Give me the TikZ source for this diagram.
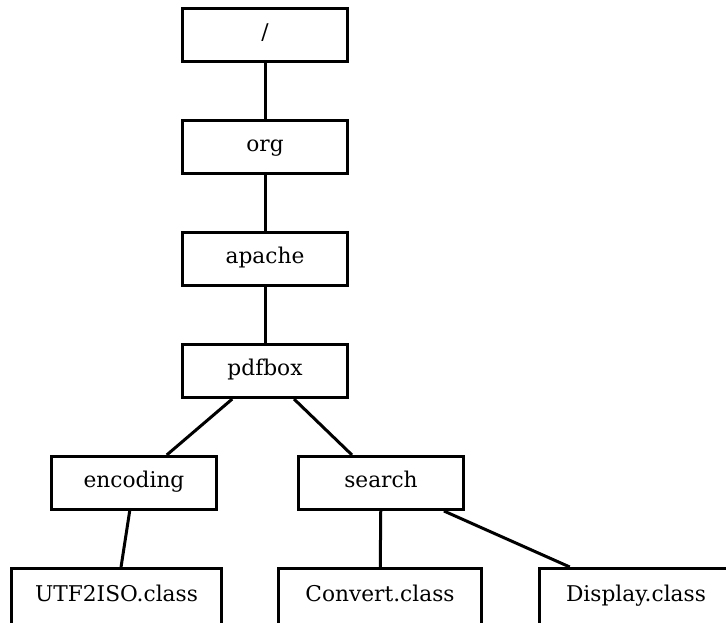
\documentclass[tikz,border=0pt]{standalone}
\usepackage{fontspec}
\setmainfont{DejaVu Serif}
\usetikzlibrary{positioning}
\tikzset{
  dirbox/.style={draw,minimum width=165pt,minimum height=53pt,inner sep=0pt,
    text height=1.15em,text depth=0.2em},
  filebox/.style={draw,minimum height=56pt,inner sep=0pt,
    text height=1.15em,text depth=0.2em}
}

\begin{document}
\begin{tikzpicture}[x=1pt,y=1pt,line width=3pt,node distance=56pt,
    font=\fontsize{21.7}{26}\selectfont]
  \useasboundingbox (0,0) rectangle (726,-623);
  \clip (0,0) rectangle (726,-623);

  % directory chain
  \node[dirbox] (root) at (265,-35) {/};
  \node[dirbox,below=of root] (org) {org};
  \node[dirbox,below=of org] (apache) {apache};
  \node[dirbox,below=of apache] (pdfbox) {pdfbox};

  % sub-packages
  \node[dirbox,below=of pdfbox,xshift=-131pt] (encoding) {encoding};
  \node[dirbox,below=of pdfbox,xshift=116pt] (search) {search};

  % class files
  \node[filebox,minimum width=210pt,below=of encoding,xshift=-17.5pt] (utf) {UTF2ISO.class};
  \node[filebox,minimum width=203pt,below=of search,xshift=-1pt] (convert) {Convert.class};
  \node[filebox,minimum width=193pt,below=of search,xshift=255pt] (display) {Display.class};

  \draw (root) -- (org);
  \draw (org) -- (apache);
  \draw (apache) -- (pdfbox);
  \draw (pdfbox) -- (encoding);
  \draw (pdfbox) -- (search);
  \draw (encoding) -- (utf);
  \draw (search) -- (convert);
  \draw (search) -- (display);
\end{tikzpicture}
\end{document}
